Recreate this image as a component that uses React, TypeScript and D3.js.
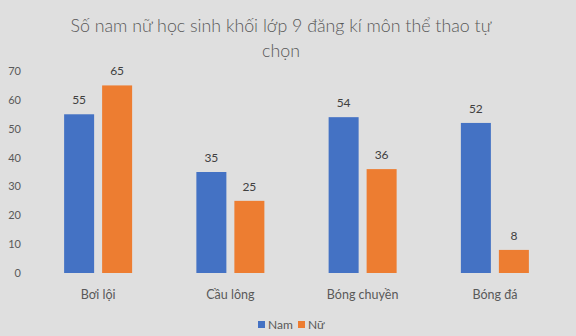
import React from "react";
import * as d3 from "d3";

const categories = ["Bơi lội", "Cầu lông", "Bóng chuyền", "Bóng đá"];
const seriesNames = ["Nam", "Nữ"];
const namValues = [55, 35, 54, 52];
const nuValues = [65, 25, 36, 8];
const yTicks = [0, 10, 20, 30, 40, 50, 60, 70];
const colors = ["#4472C4", "#ED7D31"];

const W = 576;
const H = 336;
const FONT = "Lato, 'Open Sans', sans-serif";
const TEXT = "#595959";

export default function App() {
  const x0 = d3.scaleBand<string>().domain(categories).range([32, 561]).paddingInner(0.4858).paddingOuter(0.2429);
  const x1 = d3.scaleBand<string>().domain(seriesNames).range([0, x0.bandwidth()]).paddingInner(0.2105);
  const y = d3.scaleLinear().domain([0, 70]).range([273, 71]);
  const series = [namValues, nuValues];

  return (
    <svg width={W} height={H} style={{ position: "absolute", left: 0, top: 0, display: "block" }} fontFamily={FONT}>
      <rect x={0} y={0} width={W} height={H} fill="#dfdfdf" />
      <text x={281} y={32} textAnchor="middle" fontSize={17.8} fontWeight={300} fill={TEXT}>
        Số nam nữ học sinh khối lớp 9 đăng kí môn thể thao tự
      </text>
      <text x={281} y={57} textAnchor="middle" fontSize={17.8} fontWeight={300} fill={TEXT}>
        chọn
      </text>
      {yTicks.map((t) => (
        <text key={t} x={21} y={y(t) + 4} textAnchor="end" fontSize={11} fill={TEXT}>
          {t}
        </text>
      ))}
      {categories.map((c, i) => (
        <g key={c}>
          {series.map((vals, s) => {
            const bx = (x0(c) as number) + (x1(seriesNames[s]) as number);
            const bw = x1.bandwidth();
            return (
              <g key={s}>
                <rect x={bx} y={y(vals[i])} width={bw} height={y(0) - y(vals[i])} fill={colors[s]} />
                <text x={bx + bw / 2} y={y(vals[i]) - 10} textAnchor="middle" fontSize={12} fill="#404040">
                  {vals[i]}
                </text>
              </g>
            );
          })}
          <text x={(x0(c) as number) + x0.bandwidth() / 2} y={299} textAnchor="middle" fontSize={12.5} fill={TEXT}>
            {c}
          </text>
        </g>
      ))}
      {seriesNames.map((s, i) => {
        const lx = i === 0 ? 258 : 298;
        return (
          <g key={s}>
            <rect x={lx} y={321} width={7} height={7} fill={colors[i]} />
            <text x={lx + 10} y={328.5} fontSize={12} fill={TEXT}>
              {s}
            </text>
          </g>
        );
      })}
    </svg>
  );
}
